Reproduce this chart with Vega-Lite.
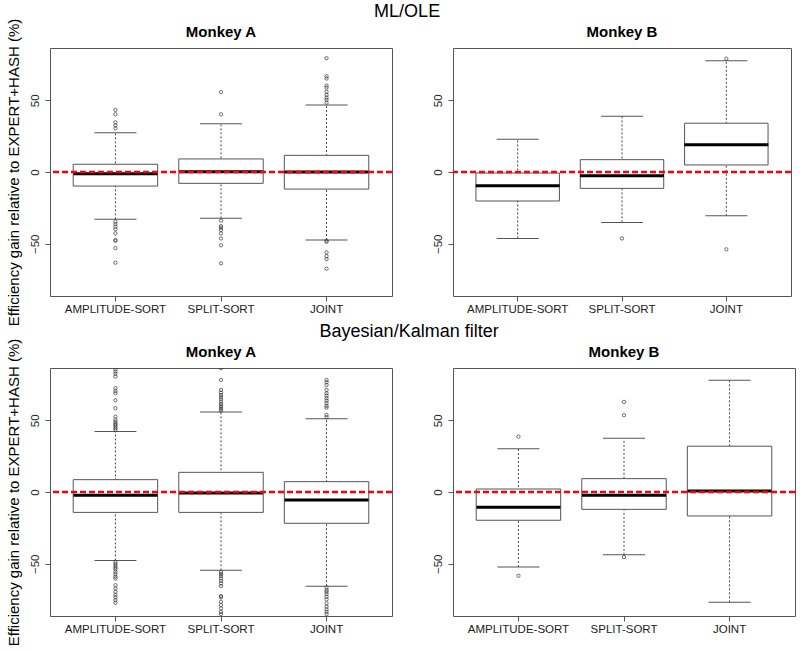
{
  "$schema": "https://vega.github.io/schema/vega-lite/v6.json",
  "padding": {"left": 5, "top": 2, "right": 4, "bottom": 4},
  "background": "white",
  "spacing": -5,
  "config": {
    "font": "Liberation Sans",
    "view": {"stroke": "#555", "strokeWidth": 1},
    "axis": {"grid": false, "domain": false, "labelFont": "Liberation Sans", "labelFontSize": 11.5, "labelColor": "#222", "tickColor": "#555", "tickSize": 5},
    "tick": {"opacity": 1},
    "point": {"opacity": 1}
  },
  "datasets": {
    "boxes": [
      {"method": "ML/OLE", "monkey": "Monkey A", "sort": "AMPLITUDE-SORT", "lo": -33, "q1": -9.8, "med": -1.2, "q3": 5.4, "hi": 27.4},
      {"method": "ML/OLE", "monkey": "Monkey A", "sort": "SPLIT-SORT", "lo": -32.3, "q1": -7.9, "med": 0.2, "q3": 9.1, "hi": 33.7},
      {"method": "ML/OLE", "monkey": "Monkey A", "sort": "JOINT", "lo": -47.4, "q1": -11.9, "med": 0, "q3": 11.6, "hi": 46.7},
      {"method": "ML/OLE", "monkey": "Monkey B", "sort": "AMPLITUDE-SORT", "lo": -46.3, "q1": -20.2, "med": -9.5, "q3": -0.7, "hi": 22.8},
      {"method": "ML/OLE", "monkey": "Monkey B", "sort": "SPLIT-SORT", "lo": -35.1, "q1": -11.4, "med": -2.6, "q3": 8.6, "hi": 38.8},
      {"method": "ML/OLE", "monkey": "Monkey B", "sort": "JOINT", "lo": -30.5, "q1": 4.9, "med": 19, "q3": 34, "hi": 77.6},
      {"method": "Bayesian/Kalman filter", "monkey": "Monkey A", "sort": "AMPLITUDE-SORT", "lo": -47.7, "q1": -14.2, "med": -2.3, "q3": 8.6, "hi": 42.1},
      {"method": "Bayesian/Kalman filter", "monkey": "Monkey A", "sort": "SPLIT-SORT", "lo": -54.6, "q1": -14.2, "med": -0.7, "q3": 13.7, "hi": 55.8},
      {"method": "Bayesian/Kalman filter", "monkey": "Monkey A", "sort": "JOINT", "lo": -65.6, "q1": -21.8, "med": -5.6, "q3": 7.2, "hi": 51.1},
      {"method": "Bayesian/Kalman filter", "monkey": "Monkey B", "sort": "AMPLITUDE-SORT", "lo": -52.3, "q1": -19.7, "med": -10.7, "q3": 2.1, "hi": 30.2},
      {"method": "Bayesian/Kalman filter", "monkey": "Monkey B", "sort": "SPLIT-SORT", "lo": -43.7, "q1": -12.1, "med": -2.3, "q3": 9.3, "hi": 37.4},
      {"method": "Bayesian/Kalman filter", "monkey": "Monkey B", "sort": "JOINT", "lo": -76.9, "q1": -16.7, "med": 0.7, "q3": 31.9, "hi": 77.9}
    ],
    "outliers": [
      {"method": "ML/OLE", "monkey": "Monkey A", "sort": "AMPLITUDE-SORT", "value": 43.2},
      {"method": "ML/OLE", "monkey": "Monkey A", "sort": "AMPLITUDE-SORT", "value": 40.2},
      {"method": "ML/OLE", "monkey": "Monkey A", "sort": "AMPLITUDE-SORT", "value": 34.6},
      {"method": "ML/OLE", "monkey": "Monkey A", "sort": "AMPLITUDE-SORT", "value": 32.5},
      {"method": "ML/OLE", "monkey": "Monkey A", "sort": "AMPLITUDE-SORT", "value": 30.4},
      {"method": "ML/OLE", "monkey": "Monkey A", "sort": "AMPLITUDE-SORT", "value": -34.6},
      {"method": "ML/OLE", "monkey": "Monkey A", "sort": "AMPLITUDE-SORT", "value": -36.3},
      {"method": "ML/OLE", "monkey": "Monkey A", "sort": "AMPLITUDE-SORT", "value": -38.1},
      {"method": "ML/OLE", "monkey": "Monkey A", "sort": "AMPLITUDE-SORT", "value": -40},
      {"method": "ML/OLE", "monkey": "Monkey A", "sort": "AMPLITUDE-SORT", "value": -42.8},
      {"method": "ML/OLE", "monkey": "Monkey A", "sort": "AMPLITUDE-SORT", "value": -47.4},
      {"method": "ML/OLE", "monkey": "Monkey A", "sort": "AMPLITUDE-SORT", "value": -47.9},
      {"method": "ML/OLE", "monkey": "Monkey A", "sort": "AMPLITUDE-SORT", "value": -53},
      {"method": "ML/OLE", "monkey": "Monkey A", "sort": "AMPLITUDE-SORT", "value": -63.2},
      {"method": "ML/OLE", "monkey": "Monkey A", "sort": "SPLIT-SORT", "value": 55.6},
      {"method": "ML/OLE", "monkey": "Monkey A", "sort": "SPLIT-SORT", "value": 40.2},
      {"method": "ML/OLE", "monkey": "Monkey A", "sort": "SPLIT-SORT", "value": -33.9},
      {"method": "ML/OLE", "monkey": "Monkey A", "sort": "SPLIT-SORT", "value": -37.7},
      {"method": "ML/OLE", "monkey": "Monkey A", "sort": "SPLIT-SORT", "value": -38.8},
      {"method": "ML/OLE", "monkey": "Monkey A", "sort": "SPLIT-SORT", "value": -40.4},
      {"method": "ML/OLE", "monkey": "Monkey A", "sort": "SPLIT-SORT", "value": -42.8},
      {"method": "ML/OLE", "monkey": "Monkey A", "sort": "SPLIT-SORT", "value": -46.3},
      {"method": "ML/OLE", "monkey": "Monkey A", "sort": "SPLIT-SORT", "value": -51.1},
      {"method": "ML/OLE", "monkey": "Monkey A", "sort": "SPLIT-SORT", "value": -63.7},
      {"method": "ML/OLE", "monkey": "Monkey A", "sort": "JOINT", "value": 79.3},
      {"method": "ML/OLE", "monkey": "Monkey A", "sort": "JOINT", "value": 66.7},
      {"method": "ML/OLE", "monkey": "Monkey A", "sort": "JOINT", "value": 65.1},
      {"method": "ML/OLE", "monkey": "Monkey A", "sort": "JOINT", "value": 60.2},
      {"method": "ML/OLE", "monkey": "Monkey A", "sort": "JOINT", "value": 58.8},
      {"method": "ML/OLE", "monkey": "Monkey A", "sort": "JOINT", "value": 56},
      {"method": "ML/OLE", "monkey": "Monkey A", "sort": "JOINT", "value": 53.7},
      {"method": "ML/OLE", "monkey": "Monkey A", "sort": "JOINT", "value": 51.8},
      {"method": "ML/OLE", "monkey": "Monkey A", "sort": "JOINT", "value": 50.2},
      {"method": "ML/OLE", "monkey": "Monkey A", "sort": "JOINT", "value": 48.3},
      {"method": "ML/OLE", "monkey": "Monkey A", "sort": "JOINT", "value": -47.9},
      {"method": "ML/OLE", "monkey": "Monkey A", "sort": "JOINT", "value": -48.6},
      {"method": "ML/OLE", "monkey": "Monkey A", "sort": "JOINT", "value": -56},
      {"method": "ML/OLE", "monkey": "Monkey A", "sort": "JOINT", "value": -58.6},
      {"method": "ML/OLE", "monkey": "Monkey A", "sort": "JOINT", "value": -60.7},
      {"method": "ML/OLE", "monkey": "Monkey A", "sort": "JOINT", "value": -67.4},
      {"method": "ML/OLE", "monkey": "Monkey B", "sort": "SPLIT-SORT", "value": -46.3},
      {"method": "ML/OLE", "monkey": "Monkey B", "sort": "JOINT", "value": 79},
      {"method": "ML/OLE", "monkey": "Monkey B", "sort": "JOINT", "value": -53.9},
      {"method": "Bayesian/Kalman filter", "monkey": "Monkey A", "sort": "AMPLITUDE-SORT", "value": 85.5},
      {"method": "Bayesian/Kalman filter", "monkey": "Monkey A", "sort": "AMPLITUDE-SORT", "value": 83.9},
      {"method": "Bayesian/Kalman filter", "monkey": "Monkey A", "sort": "AMPLITUDE-SORT", "value": 82.3},
      {"method": "Bayesian/Kalman filter", "monkey": "Monkey A", "sort": "AMPLITUDE-SORT", "value": 80.4},
      {"method": "Bayesian/Kalman filter", "monkey": "Monkey A", "sort": "AMPLITUDE-SORT", "value": 72.3},
      {"method": "Bayesian/Kalman filter", "monkey": "Monkey A", "sort": "AMPLITUDE-SORT", "value": 70.4},
      {"method": "Bayesian/Kalman filter", "monkey": "Monkey A", "sort": "AMPLITUDE-SORT", "value": 68.8},
      {"method": "Bayesian/Kalman filter", "monkey": "Monkey A", "sort": "AMPLITUDE-SORT", "value": 63.9},
      {"method": "Bayesian/Kalman filter", "monkey": "Monkey A", "sort": "AMPLITUDE-SORT", "value": 58.4},
      {"method": "Bayesian/Kalman filter", "monkey": "Monkey A", "sort": "AMPLITUDE-SORT", "value": 52.5},
      {"method": "Bayesian/Kalman filter", "monkey": "Monkey A", "sort": "AMPLITUDE-SORT", "value": 50.2},
      {"method": "Bayesian/Kalman filter", "monkey": "Monkey A", "sort": "AMPLITUDE-SORT", "value": 48.8},
      {"method": "Bayesian/Kalman filter", "monkey": "Monkey A", "sort": "AMPLITUDE-SORT", "value": 47.6},
      {"method": "Bayesian/Kalman filter", "monkey": "Monkey A", "sort": "AMPLITUDE-SORT", "value": 46.7},
      {"method": "Bayesian/Kalman filter", "monkey": "Monkey A", "sort": "AMPLITUDE-SORT", "value": 45.5},
      {"method": "Bayesian/Kalman filter", "monkey": "Monkey A", "sort": "AMPLITUDE-SORT", "value": 44.4},
      {"method": "Bayesian/Kalman filter", "monkey": "Monkey A", "sort": "AMPLITUDE-SORT", "value": 43.2},
      {"method": "Bayesian/Kalman filter", "monkey": "Monkey A", "sort": "AMPLITUDE-SORT", "value": -49},
      {"method": "Bayesian/Kalman filter", "monkey": "Monkey A", "sort": "AMPLITUDE-SORT", "value": -50.2},
      {"method": "Bayesian/Kalman filter", "monkey": "Monkey A", "sort": "AMPLITUDE-SORT", "value": -51.6},
      {"method": "Bayesian/Kalman filter", "monkey": "Monkey A", "sort": "AMPLITUDE-SORT", "value": -52.8},
      {"method": "Bayesian/Kalman filter", "monkey": "Monkey A", "sort": "AMPLITUDE-SORT", "value": -53.9},
      {"method": "Bayesian/Kalman filter", "monkey": "Monkey A", "sort": "AMPLITUDE-SORT", "value": -55.6},
      {"method": "Bayesian/Kalman filter", "monkey": "Monkey A", "sort": "AMPLITUDE-SORT", "value": -57.2},
      {"method": "Bayesian/Kalman filter", "monkey": "Monkey A", "sort": "AMPLITUDE-SORT", "value": -59},
      {"method": "Bayesian/Kalman filter", "monkey": "Monkey A", "sort": "AMPLITUDE-SORT", "value": -60.2},
      {"method": "Bayesian/Kalman filter", "monkey": "Monkey A", "sort": "AMPLITUDE-SORT", "value": -64.9},
      {"method": "Bayesian/Kalman filter", "monkey": "Monkey A", "sort": "AMPLITUDE-SORT", "value": -67.2},
      {"method": "Bayesian/Kalman filter", "monkey": "Monkey A", "sort": "AMPLITUDE-SORT", "value": -69.5},
      {"method": "Bayesian/Kalman filter", "monkey": "Monkey A", "sort": "AMPLITUDE-SORT", "value": -71.8},
      {"method": "Bayesian/Kalman filter", "monkey": "Monkey A", "sort": "AMPLITUDE-SORT", "value": -73.4},
      {"method": "Bayesian/Kalman filter", "monkey": "Monkey A", "sort": "AMPLITUDE-SORT", "value": -75.3},
      {"method": "Bayesian/Kalman filter", "monkey": "Monkey A", "sort": "AMPLITUDE-SORT", "value": -77.2},
      {"method": "Bayesian/Kalman filter", "monkey": "Monkey A", "sort": "SPLIT-SORT", "value": 86.3},
      {"method": "Bayesian/Kalman filter", "monkey": "Monkey A", "sort": "SPLIT-SORT", "value": 78.1},
      {"method": "Bayesian/Kalman filter", "monkey": "Monkey A", "sort": "SPLIT-SORT", "value": 71.1},
      {"method": "Bayesian/Kalman filter", "monkey": "Monkey A", "sort": "SPLIT-SORT", "value": 69.2},
      {"method": "Bayesian/Kalman filter", "monkey": "Monkey A", "sort": "SPLIT-SORT", "value": 67.6},
      {"method": "Bayesian/Kalman filter", "monkey": "Monkey A", "sort": "SPLIT-SORT", "value": 66},
      {"method": "Bayesian/Kalman filter", "monkey": "Monkey A", "sort": "SPLIT-SORT", "value": 64.6},
      {"method": "Bayesian/Kalman filter", "monkey": "Monkey A", "sort": "SPLIT-SORT", "value": 63},
      {"method": "Bayesian/Kalman filter", "monkey": "Monkey A", "sort": "SPLIT-SORT", "value": 61.4},
      {"method": "Bayesian/Kalman filter", "monkey": "Monkey A", "sort": "SPLIT-SORT", "value": 60.2},
      {"method": "Bayesian/Kalman filter", "monkey": "Monkey A", "sort": "SPLIT-SORT", "value": 59.1},
      {"method": "Bayesian/Kalman filter", "monkey": "Monkey A", "sort": "SPLIT-SORT", "value": 57.9},
      {"method": "Bayesian/Kalman filter", "monkey": "Monkey A", "sort": "SPLIT-SORT", "value": 56.7},
      {"method": "Bayesian/Kalman filter", "monkey": "Monkey A", "sort": "SPLIT-SORT", "value": -55.8},
      {"method": "Bayesian/Kalman filter", "monkey": "Monkey A", "sort": "SPLIT-SORT", "value": -57.2},
      {"method": "Bayesian/Kalman filter", "monkey": "Monkey A", "sort": "SPLIT-SORT", "value": -58.6},
      {"method": "Bayesian/Kalman filter", "monkey": "Monkey A", "sort": "SPLIT-SORT", "value": -60.2},
      {"method": "Bayesian/Kalman filter", "monkey": "Monkey A", "sort": "SPLIT-SORT", "value": -61.9},
      {"method": "Bayesian/Kalman filter", "monkey": "Monkey A", "sort": "SPLIT-SORT", "value": -63.7},
      {"method": "Bayesian/Kalman filter", "monkey": "Monkey A", "sort": "SPLIT-SORT", "value": -65.6},
      {"method": "Bayesian/Kalman filter", "monkey": "Monkey A", "sort": "SPLIT-SORT", "value": -72.5},
      {"method": "Bayesian/Kalman filter", "monkey": "Monkey A", "sort": "SPLIT-SORT", "value": -73.4},
      {"method": "Bayesian/Kalman filter", "monkey": "Monkey A", "sort": "SPLIT-SORT", "value": -76.5},
      {"method": "Bayesian/Kalman filter", "monkey": "Monkey A", "sort": "SPLIT-SORT", "value": -78.8},
      {"method": "Bayesian/Kalman filter", "monkey": "Monkey A", "sort": "SPLIT-SORT", "value": -81.1},
      {"method": "Bayesian/Kalman filter", "monkey": "Monkey A", "sort": "SPLIT-SORT", "value": -83.5},
      {"method": "Bayesian/Kalman filter", "monkey": "Monkey A", "sort": "SPLIT-SORT", "value": -85.1},
      {"method": "Bayesian/Kalman filter", "monkey": "Monkey A", "sort": "JOINT", "value": 78.1},
      {"method": "Bayesian/Kalman filter", "monkey": "Monkey A", "sort": "JOINT", "value": 76.5},
      {"method": "Bayesian/Kalman filter", "monkey": "Monkey A", "sort": "JOINT", "value": 74.6},
      {"method": "Bayesian/Kalman filter", "monkey": "Monkey A", "sort": "JOINT", "value": 71.1},
      {"method": "Bayesian/Kalman filter", "monkey": "Monkey A", "sort": "JOINT", "value": 68.8},
      {"method": "Bayesian/Kalman filter", "monkey": "Monkey A", "sort": "JOINT", "value": 67.2},
      {"method": "Bayesian/Kalman filter", "monkey": "Monkey A", "sort": "JOINT", "value": 65.3},
      {"method": "Bayesian/Kalman filter", "monkey": "Monkey A", "sort": "JOINT", "value": 63.7},
      {"method": "Bayesian/Kalman filter", "monkey": "Monkey A", "sort": "JOINT", "value": 61.9},
      {"method": "Bayesian/Kalman filter", "monkey": "Monkey A", "sort": "JOINT", "value": 60},
      {"method": "Bayesian/Kalman filter", "monkey": "Monkey A", "sort": "JOINT", "value": 58.8},
      {"method": "Bayesian/Kalman filter", "monkey": "Monkey A", "sort": "JOINT", "value": 53.7},
      {"method": "Bayesian/Kalman filter", "monkey": "Monkey A", "sort": "JOINT", "value": 52.1},
      {"method": "Bayesian/Kalman filter", "monkey": "Monkey A", "sort": "JOINT", "value": -66.5},
      {"method": "Bayesian/Kalman filter", "monkey": "Monkey A", "sort": "JOINT", "value": -68.3},
      {"method": "Bayesian/Kalman filter", "monkey": "Monkey A", "sort": "JOINT", "value": -69.5},
      {"method": "Bayesian/Kalman filter", "monkey": "Monkey A", "sort": "JOINT", "value": -71.1},
      {"method": "Bayesian/Kalman filter", "monkey": "Monkey A", "sort": "JOINT", "value": -73},
      {"method": "Bayesian/Kalman filter", "monkey": "Monkey A", "sort": "JOINT", "value": -74.8},
      {"method": "Bayesian/Kalman filter", "monkey": "Monkey A", "sort": "JOINT", "value": -77.6},
      {"method": "Bayesian/Kalman filter", "monkey": "Monkey A", "sort": "JOINT", "value": -79.9},
      {"method": "Bayesian/Kalman filter", "monkey": "Monkey A", "sort": "JOINT", "value": -81.8},
      {"method": "Bayesian/Kalman filter", "monkey": "Monkey A", "sort": "JOINT", "value": -83.5},
      {"method": "Bayesian/Kalman filter", "monkey": "Monkey A", "sort": "JOINT", "value": -85.1},
      {"method": "Bayesian/Kalman filter", "monkey": "Monkey B", "sort": "AMPLITUDE-SORT", "value": 38.6},
      {"method": "Bayesian/Kalman filter", "monkey": "Monkey B", "sort": "AMPLITUDE-SORT", "value": -58.4},
      {"method": "Bayesian/Kalman filter", "monkey": "Monkey B", "sort": "SPLIT-SORT", "value": 62.8},
      {"method": "Bayesian/Kalman filter", "monkey": "Monkey B", "sort": "SPLIT-SORT", "value": 53.5},
      {"method": "Bayesian/Kalman filter", "monkey": "Monkey B", "sort": "SPLIT-SORT", "value": -45.3}
    ],
    "reference": [{"gain": 0}]
  },
  "vconcat": [
    {
      "title": {"text": "ML/OLE", "fontSize": 18, "fontWeight": "normal", "color": "black", "anchor": "middle", "offset": -3, "dx": 8},
      "spacing": 37,
      "hconcat": [
        {
          "width": 342, "height": 248,
          "title": {"text": "Monkey A", "fontSize": 15, "fontWeight": "bold", "color": "black", "offset": -22},
          "layer": [
            {"data": {"name": "boxes"}, "transform": [{"filter": "datum.method === 'ML/OLE' && datum.monkey === 'Monkey A'"}],
             "mark": {"type": "rule", "color": "#444", "strokeWidth": 1, "strokeDash": [2, 2]},
             "encoding": {
               "x": {"field": "sort", "type": "nominal", "sort": ["AMPLITUDE-SORT", "SPLIT-SORT", "JOINT"], "scale": {"type": "band", "paddingInner": 0.2, "paddingOuter": 0.22}, "axis": {"title": null, "labelAngle": 0, "labelPadding": 2}},
               "y": {"field": "lo", "type": "quantitative", "scale": {"domain": [-86.4, 86.4], "nice": false, "zero": false}, "axis": {"values": [-50, 0, 50], "labelAngle": -90, "labelAlign": "center", "labelBaseline": "bottom", "labelPadding": 5, "title": "Efficiency gain relative to EXPERT+HASH (%)", "titleFontSize": 15, "titleFontWeight": "normal", "titleColor": "black", "titlePadding": 8}},
               "y2": {"field": "hi"}}},
            {"data": {"name": "boxes"}, "transform": [{"filter": "datum.method === 'ML/OLE' && datum.monkey === 'Monkey A'"}],
             "mark": {"type": "tick", "color": "#555", "thickness": 1, "size": 42},
             "encoding": {"x": {"field": "sort", "type": "nominal", "sort": ["AMPLITUDE-SORT", "SPLIT-SORT", "JOINT"]}, "y": {"field": "lo", "type": "quantitative"}}},
            {"data": {"name": "boxes"}, "transform": [{"filter": "datum.method === 'ML/OLE' && datum.monkey === 'Monkey A'"}],
             "mark": {"type": "tick", "color": "#555", "thickness": 1, "size": 42},
             "encoding": {"x": {"field": "sort", "type": "nominal", "sort": ["AMPLITUDE-SORT", "SPLIT-SORT", "JOINT"]}, "y": {"field": "hi", "type": "quantitative"}}},
            {"data": {"name": "boxes"}, "transform": [{"filter": "datum.method === 'ML/OLE' && datum.monkey === 'Monkey A'"}],
             "mark": {"type": "bar", "fill": "white", "stroke": "#555", "strokeWidth": 1},
             "encoding": {"x": {"field": "sort", "type": "nominal", "sort": ["AMPLITUDE-SORT", "SPLIT-SORT", "JOINT"]}, "y": {"field": "q1", "type": "quantitative"}, "y2": {"field": "q3"}}},
            {"data": {"name": "boxes"}, "transform": [{"filter": "datum.method === 'ML/OLE' && datum.monkey === 'Monkey A'"}],
             "mark": {"type": "tick", "color": "black", "thickness": 3, "size": 84},
             "encoding": {"x": {"field": "sort", "type": "nominal", "sort": ["AMPLITUDE-SORT", "SPLIT-SORT", "JOINT"]}, "y": {"field": "med", "type": "quantitative"}}},
            {"data": {"name": "outliers"}, "transform": [{"filter": "datum.method === 'ML/OLE' && datum.monkey === 'Monkey A'"}],
             "mark": {"type": "point", "shape": "circle", "filled": false, "size": 11, "stroke": "#333", "strokeWidth": 0.7},
             "encoding": {"x": {"field": "sort", "type": "nominal", "sort": ["AMPLITUDE-SORT", "SPLIT-SORT", "JOINT"]}, "y": {"field": "value", "type": "quantitative"}}},
            {"data": {"name": "reference"},
             "mark": {"type": "rule", "color": "#ff0000", "strokeWidth": 2.5, "strokeDash": [6, 3]},
             "encoding": {"y": {"field": "gain", "type": "quantitative"}}}
          ]
        },
        {
          "width": 338, "height": 248,
          "title": {"text": "Monkey B", "fontSize": 15, "fontWeight": "bold", "color": "black", "offset": 8},
          "layer": [
            {"data": {"name": "boxes"}, "transform": [{"filter": "datum.method === 'ML/OLE' && datum.monkey === 'Monkey B'"}],
             "mark": {"type": "rule", "color": "#444", "strokeWidth": 1, "strokeDash": [2, 2]},
             "encoding": {
               "x": {"field": "sort", "type": "nominal", "sort": ["AMPLITUDE-SORT", "SPLIT-SORT", "JOINT"], "scale": {"type": "band", "paddingInner": 0.2, "paddingOuter": 0.22}, "axis": {"title": null, "labelAngle": 0, "labelPadding": 2}},
               "y": {"field": "lo", "type": "quantitative", "scale": {"domain": [-86.4, 86.4], "nice": false, "zero": false}, "axis": {"values": [-50, 0, 50], "labelAngle": -90, "labelAlign": "center", "labelBaseline": "bottom", "labelPadding": 5, "title": null}},
               "y2": {"field": "hi"}}},
            {"data": {"name": "boxes"}, "transform": [{"filter": "datum.method === 'ML/OLE' && datum.monkey === 'Monkey B'"}],
             "mark": {"type": "tick", "color": "#555", "thickness": 1, "size": 42},
             "encoding": {"x": {"field": "sort", "type": "nominal", "sort": ["AMPLITUDE-SORT", "SPLIT-SORT", "JOINT"]}, "y": {"field": "lo", "type": "quantitative"}}},
            {"data": {"name": "boxes"}, "transform": [{"filter": "datum.method === 'ML/OLE' && datum.monkey === 'Monkey B'"}],
             "mark": {"type": "tick", "color": "#555", "thickness": 1, "size": 42},
             "encoding": {"x": {"field": "sort", "type": "nominal", "sort": ["AMPLITUDE-SORT", "SPLIT-SORT", "JOINT"]}, "y": {"field": "hi", "type": "quantitative"}}},
            {"data": {"name": "boxes"}, "transform": [{"filter": "datum.method === 'ML/OLE' && datum.monkey === 'Monkey B'"}],
             "mark": {"type": "bar", "fill": "white", "stroke": "#555", "strokeWidth": 1},
             "encoding": {"x": {"field": "sort", "type": "nominal", "sort": ["AMPLITUDE-SORT", "SPLIT-SORT", "JOINT"]}, "y": {"field": "q1", "type": "quantitative"}, "y2": {"field": "q3"}}},
            {"data": {"name": "boxes"}, "transform": [{"filter": "datum.method === 'ML/OLE' && datum.monkey === 'Monkey B'"}],
             "mark": {"type": "tick", "color": "black", "thickness": 3, "size": 84},
             "encoding": {"x": {"field": "sort", "type": "nominal", "sort": ["AMPLITUDE-SORT", "SPLIT-SORT", "JOINT"]}, "y": {"field": "med", "type": "quantitative"}}},
            {"data": {"name": "outliers"}, "transform": [{"filter": "datum.method === 'ML/OLE' && datum.monkey === 'Monkey B'"}],
             "mark": {"type": "point", "shape": "circle", "filled": false, "size": 11, "stroke": "#333", "strokeWidth": 0.7},
             "encoding": {"x": {"field": "sort", "type": "nominal", "sort": ["AMPLITUDE-SORT", "SPLIT-SORT", "JOINT"]}, "y": {"field": "value", "type": "quantitative"}}},
            {"data": {"name": "reference"},
             "mark": {"type": "rule", "color": "#ff0000", "strokeWidth": 2.5, "strokeDash": [6, 3]},
             "encoding": {"y": {"field": "gain", "type": "quantitative"}}}
          ]
        }
      ]
    },
    {
      "title": {"text": "Bayesian/Kalman filter", "fontSize": 18, "fontWeight": "normal", "color": "black", "anchor": "middle", "offset": -3, "dx": 8},
      "spacing": 37,
      "hconcat": [
        {
          "width": 342, "height": 248,
          "title": {"text": "Monkey A", "fontSize": 15, "fontWeight": "bold", "color": "black", "offset": -22},
          "layer": [
            {"data": {"name": "boxes"}, "transform": [{"filter": "datum.method === 'Bayesian/Kalman filter' && datum.monkey === 'Monkey A'"}],
             "mark": {"type": "rule", "color": "#444", "strokeWidth": 1, "strokeDash": [2, 2]},
             "encoding": {
               "x": {"field": "sort", "type": "nominal", "sort": ["AMPLITUDE-SORT", "SPLIT-SORT", "JOINT"], "scale": {"type": "band", "paddingInner": 0.2, "paddingOuter": 0.22}, "axis": {"title": null, "labelAngle": 0, "labelPadding": 2}},
               "y": {"field": "lo", "type": "quantitative", "scale": {"domain": [-86.4, 86.4], "nice": false, "zero": false}, "axis": {"values": [-50, 0, 50], "labelAngle": -90, "labelAlign": "center", "labelBaseline": "bottom", "labelPadding": 5, "title": "Efficiency gain relative to EXPERT+HASH (%)", "titleFontSize": 15, "titleFontWeight": "normal", "titleColor": "black", "titlePadding": 8}},
               "y2": {"field": "hi"}}},
            {"data": {"name": "boxes"}, "transform": [{"filter": "datum.method === 'Bayesian/Kalman filter' && datum.monkey === 'Monkey A'"}],
             "mark": {"type": "tick", "color": "#555", "thickness": 1, "size": 42},
             "encoding": {"x": {"field": "sort", "type": "nominal", "sort": ["AMPLITUDE-SORT", "SPLIT-SORT", "JOINT"]}, "y": {"field": "lo", "type": "quantitative"}}},
            {"data": {"name": "boxes"}, "transform": [{"filter": "datum.method === 'Bayesian/Kalman filter' && datum.monkey === 'Monkey A'"}],
             "mark": {"type": "tick", "color": "#555", "thickness": 1, "size": 42},
             "encoding": {"x": {"field": "sort", "type": "nominal", "sort": ["AMPLITUDE-SORT", "SPLIT-SORT", "JOINT"]}, "y": {"field": "hi", "type": "quantitative"}}},
            {"data": {"name": "boxes"}, "transform": [{"filter": "datum.method === 'Bayesian/Kalman filter' && datum.monkey === 'Monkey A'"}],
             "mark": {"type": "bar", "fill": "white", "stroke": "#555", "strokeWidth": 1},
             "encoding": {"x": {"field": "sort", "type": "nominal", "sort": ["AMPLITUDE-SORT", "SPLIT-SORT", "JOINT"]}, "y": {"field": "q1", "type": "quantitative"}, "y2": {"field": "q3"}}},
            {"data": {"name": "boxes"}, "transform": [{"filter": "datum.method === 'Bayesian/Kalman filter' && datum.monkey === 'Monkey A'"}],
             "mark": {"type": "tick", "color": "black", "thickness": 3, "size": 84},
             "encoding": {"x": {"field": "sort", "type": "nominal", "sort": ["AMPLITUDE-SORT", "SPLIT-SORT", "JOINT"]}, "y": {"field": "med", "type": "quantitative"}}},
            {"data": {"name": "outliers"}, "transform": [{"filter": "datum.method === 'Bayesian/Kalman filter' && datum.monkey === 'Monkey A'"}],
             "mark": {"type": "point", "shape": "circle", "filled": false, "size": 11, "stroke": "#333", "strokeWidth": 0.7, "clip": true},
             "encoding": {"x": {"field": "sort", "type": "nominal", "sort": ["AMPLITUDE-SORT", "SPLIT-SORT", "JOINT"]}, "y": {"field": "value", "type": "quantitative"}}},
            {"data": {"name": "reference"},
             "mark": {"type": "rule", "color": "#ff0000", "strokeWidth": 2.5, "strokeDash": [6, 3]},
             "encoding": {"y": {"field": "gain", "type": "quantitative"}}}
          ]
        },
        {
          "width": 342, "height": 248,
          "title": {"text": "Monkey B", "fontSize": 15, "fontWeight": "bold", "color": "black", "offset": 8},
          "layer": [
            {"data": {"name": "boxes"}, "transform": [{"filter": "datum.method === 'Bayesian/Kalman filter' && datum.monkey === 'Monkey B'"}],
             "mark": {"type": "rule", "color": "#444", "strokeWidth": 1, "strokeDash": [2, 2]},
             "encoding": {
               "x": {"field": "sort", "type": "nominal", "sort": ["AMPLITUDE-SORT", "SPLIT-SORT", "JOINT"], "scale": {"type": "band", "paddingInner": 0.2, "paddingOuter": 0.22}, "axis": {"title": null, "labelAngle": 0, "labelPadding": 2}},
               "y": {"field": "lo", "type": "quantitative", "scale": {"domain": [-86.4, 86.4], "nice": false, "zero": false}, "axis": {"values": [-50, 0, 50], "labelAngle": -90, "labelAlign": "center", "labelBaseline": "bottom", "labelPadding": 5, "title": null}},
               "y2": {"field": "hi"}}},
            {"data": {"name": "boxes"}, "transform": [{"filter": "datum.method === 'Bayesian/Kalman filter' && datum.monkey === 'Monkey B'"}],
             "mark": {"type": "tick", "color": "#555", "thickness": 1, "size": 42},
             "encoding": {"x": {"field": "sort", "type": "nominal", "sort": ["AMPLITUDE-SORT", "SPLIT-SORT", "JOINT"]}, "y": {"field": "lo", "type": "quantitative"}}},
            {"data": {"name": "boxes"}, "transform": [{"filter": "datum.method === 'Bayesian/Kalman filter' && datum.monkey === 'Monkey B'"}],
             "mark": {"type": "tick", "color": "#555", "thickness": 1, "size": 42},
             "encoding": {"x": {"field": "sort", "type": "nominal", "sort": ["AMPLITUDE-SORT", "SPLIT-SORT", "JOINT"]}, "y": {"field": "hi", "type": "quantitative"}}},
            {"data": {"name": "boxes"}, "transform": [{"filter": "datum.method === 'Bayesian/Kalman filter' && datum.monkey === 'Monkey B'"}],
             "mark": {"type": "bar", "fill": "white", "stroke": "#555", "strokeWidth": 1},
             "encoding": {"x": {"field": "sort", "type": "nominal", "sort": ["AMPLITUDE-SORT", "SPLIT-SORT", "JOINT"]}, "y": {"field": "q1", "type": "quantitative"}, "y2": {"field": "q3"}}},
            {"data": {"name": "boxes"}, "transform": [{"filter": "datum.method === 'Bayesian/Kalman filter' && datum.monkey === 'Monkey B'"}],
             "mark": {"type": "tick", "color": "black", "thickness": 3, "size": 84},
             "encoding": {"x": {"field": "sort", "type": "nominal", "sort": ["AMPLITUDE-SORT", "SPLIT-SORT", "JOINT"]}, "y": {"field": "med", "type": "quantitative"}}},
            {"data": {"name": "outliers"}, "transform": [{"filter": "datum.method === 'Bayesian/Kalman filter' && datum.monkey === 'Monkey B'"}],
             "mark": {"type": "point", "shape": "circle", "filled": false, "size": 11, "stroke": "#333", "strokeWidth": 0.7},
             "encoding": {"x": {"field": "sort", "type": "nominal", "sort": ["AMPLITUDE-SORT", "SPLIT-SORT", "JOINT"]}, "y": {"field": "value", "type": "quantitative"}}},
            {"data": {"name": "reference"},
             "mark": {"type": "rule", "color": "#ff0000", "strokeWidth": 2.5, "strokeDash": [6, 3]},
             "encoding": {"y": {"field": "gain", "type": "quantitative"}}}
          ]
        }
      ]
    }
  ]
}
